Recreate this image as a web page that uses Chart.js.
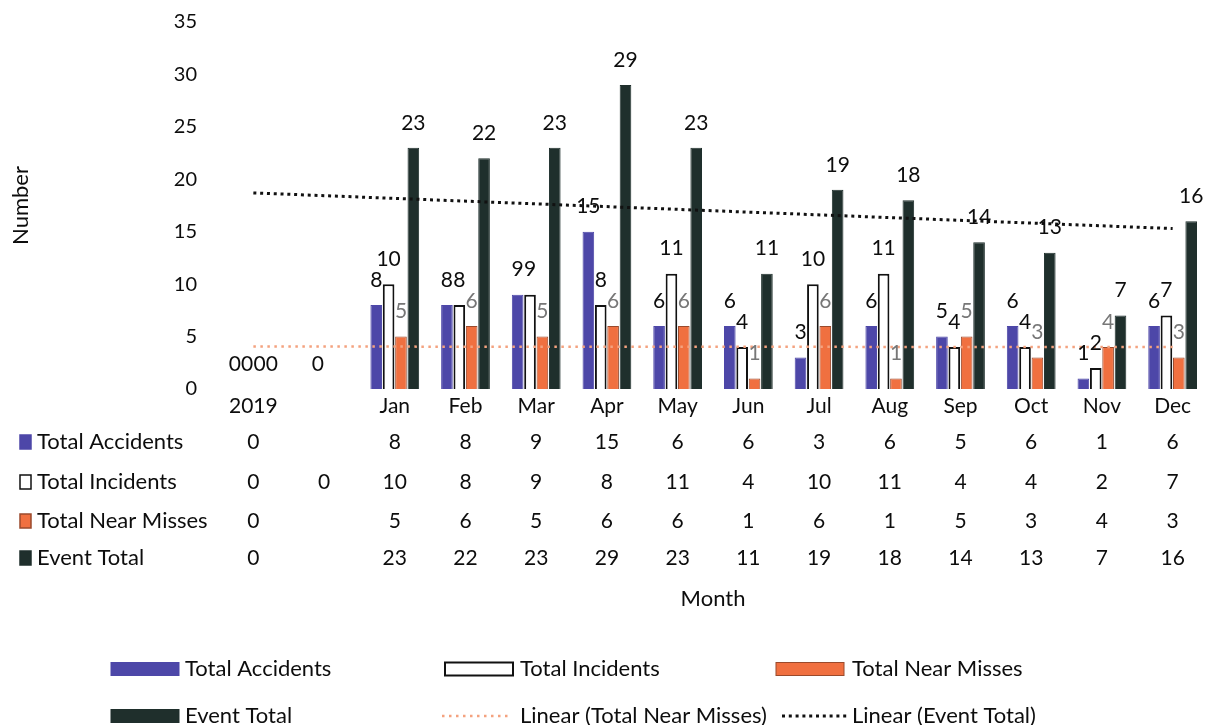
<!DOCTYPE html>
<html>
<head>
<meta charset="utf-8">
<script src="https://cdn.jsdelivr.net/npm/chart.js@4.4.0/dist/chart.umd.min.js"></script>
<style>
  html, body { margin: 0; padding: 0; background: #ffffff; }
  #wrap { width: 1218px; height: 725px; position: relative; }
</style>
</head>
<body>
<div id="wrap"><canvas id="chart" width="1218" height="725"></canvas></div>
<script>
// Monthly safety events, 2019
const categories = ['2019', '', 'Jan', 'Feb', 'Mar', 'Apr', 'May', 'Jun', 'Jul', 'Aug', 'Sep', 'Oct', 'Nov', 'Dec'];
const totalAccidents  = [0, null, 8, 8, 9, 15, 6, 6, 3, 6, 5, 6, 1, 6];
const totalIncidents  = [0, 0, 10, 8, 9, 8, 11, 4, 10, 11, 4, 4, 2, 7];
const totalNearMisses = [0, null, 5, 6, 5, 6, 6, 1, 6, 1, 5, 3, 4, 3];
const eventTotal      = [0, null, 23, 22, 23, 29, 23, 11, 19, 18, 14, 13, 7, 16];
// Linear trendlines: value at the first and at the last category
const nearMissTrendEnds = [4.05, 4.0];
const eventTrendEnds    = [18.7, 15.3];
const yTickStep = 5;
const yMax = 35;

const FONT = 'Lato, "Open Sans", sans-serif';
const TEXT = '#0d0d0d';

const COLORS = {
  accidents: '#4d47a8',
  incidents: '#ffffff',
  incidentsEdge: '#111111',
  nearMisses: '#f07040',
  nearMissesEdge: '#9a4a2c',
  event: '#1f2f2c',
  nearTrend: '#f4a27f',
  eventTrend: '#111111'
};

function endsToSeries(ends) {
  const arr = categories.map(() => null);
  arr[0] = ends[0];
  arr[arr.length - 1] = ends[1];
  return arr;
}

const tableRows = [
  { name: 'Total Accidents', values: totalAccidents, fill: COLORS.accidents, edge: COLORS.accidents },
  { name: 'Total Incidents', values: totalIncidents, fill: COLORS.incidents, edge: COLORS.incidentsEdge },
  { name: 'Total Near Misses', values: totalNearMisses, fill: COLORS.nearMisses, edge: COLORS.nearMissesEdge },
  { name: 'Event Total', values: eventTotal, fill: COLORS.event, edge: COLORS.event }
];

// Value labels above each bar
const barLabels = {
  id: 'barLabels',
  afterDatasetsDraw(chart) {
    const ctx = chart.ctx;
    ctx.save();
    ctx.font = '21px ' + FONT;
    ctx.textAlign = 'center';
    ctx.textBaseline = 'middle';
    chart.data.datasets.forEach((ds, di) => {
      if (ds.type === 'line') return;
      const meta = chart.getDatasetMeta(di);
      meta.data.forEach((el, i) => {
        const v = ds.data[i];
        if (v === null || v === undefined) return;
        ctx.fillStyle = (v > 0 && ds.labelColor) ? ds.labelColor : TEXT;
        ctx.fillText(String(v), el.x, el.y - 25);
      });
    });
    ctx.restore();
  }
};

// Data table under the axis plus the legend
const tableAndLegend = {
  id: 'tableAndLegend',
  afterDraw(chart) {
    const ctx = chart.ctx;
    const x = chart.scales.x;
    const rowY = [442, 482, 521, 558];
    ctx.save();
    ctx.textBaseline = 'middle';
    tableRows.forEach((row, r) => {
      const y = rowY[r];
      // key square
      ctx.fillStyle = row.fill;
      ctx.fillRect(20, y - 7, 11, 14);
      ctx.strokeStyle = row.edge;
      ctx.lineWidth = 1.5;
      ctx.strokeRect(20, y - 7, 11, 14);
      ctx.fillStyle = TEXT;
      ctx.textAlign = 'left';
      ctx.font = '22px ' + FONT;
      ctx.fillText(row.name, 37, y);
      ctx.textAlign = 'center';
      ctx.font = '21px ' + FONT;
      row.values.forEach((v, i) => {
        if (v === null || v === undefined) return;
        ctx.fillText(String(v), x.getPixelForValue(i), y);
      });
    });

    // legend
    const ds = chart.data.datasets;
    const items = [
      { d: ds[0], kind: 'box', sx: 111, tx: 185, y: 669 },
      { d: ds[1], kind: 'box', sx: 445, tx: 520, y: 669 },
      { d: ds[2], kind: 'box', sx: 776, tx: 852, y: 669 },
      { d: ds[3], kind: 'box', sx: 111, tx: 185, y: 716 },
      { d: ds[4], kind: 'line', sx: 442, tx: 520, y: 716 },
      { d: ds[5], kind: 'line', sx: 782, tx: 852, y: 716 }
    ];
    ctx.font = '22px ' + FONT;
    items.forEach(it => {
      if (it.kind === 'box') {
        ctx.fillStyle = it.d.backgroundColor;
        ctx.fillRect(it.sx, it.y - 6.5, 68, 13);
        ctx.strokeStyle = it.d.borderColor;
        ctx.lineWidth = it.d.borderWidth || 1;
        ctx.strokeRect(it.sx, it.y - 6.5, 68, 13);
      } else {
        ctx.strokeStyle = it.d.borderColor;
        ctx.lineWidth = it.d.borderWidth;
        ctx.setLineDash(it.d.borderDash);
        ctx.beginPath();
        ctx.moveTo(it.sx, it.y);
        ctx.lineTo(it.sx + 66, it.y);
        ctx.stroke();
        ctx.setLineDash([]);
      }
      ctx.fillStyle = TEXT;
      ctx.textAlign = 'left';
      ctx.fillText(it.d.label, it.tx, it.y);
    });
    ctx.restore();
  }
};

new Chart(document.getElementById('chart'), {
  type: 'bar',
  data: {
    labels: categories,
    datasets: [
      { label: 'Total Accidents', data: totalAccidents, backgroundColor: COLORS.accidents,
        borderColor: COLORS.accidents, borderWidth: 1, order: 1 },
      { label: 'Total Incidents', data: totalIncidents, backgroundColor: COLORS.incidents,
        borderColor: COLORS.incidentsEdge, borderWidth: 2, order: 1 },
      { label: 'Total Near Misses', data: totalNearMisses, backgroundColor: COLORS.nearMisses,
        borderColor: COLORS.nearMissesEdge, borderWidth: 1, order: 1, labelColor: '#777777' },
      { label: 'Event Total', data: eventTotal, backgroundColor: COLORS.event,
        borderColor: COLORS.event, borderWidth: 1, order: 1 },
      { type: 'line', label: 'Linear (Total Near Misses)', data: endsToSeries(nearMissTrendEnds),
        borderColor: COLORS.nearTrend, borderWidth: 2.5, borderDash: [2.5, 4.5],
        pointRadius: 0, spanGaps: true, fill: false, order: 0 },
      { type: 'line', label: 'Linear (Event Total)', data: endsToSeries(eventTrendEnds),
        borderColor: COLORS.eventTrend, borderWidth: 3, borderDash: [3, 3.8],
        pointRadius: 0, spanGaps: true, fill: false, order: 0 }
    ]
  },
  options: {
    responsive: false,
    animation: false,
    devicePixelRatio: 1,
    layout: { padding: { top: 22, right: 10, bottom: 113, left: 0 } },
    datasets: { bar: { categoryPercentage: 0.7, barPercentage: 0.94 } },
    plugins: {
      legend: { display: false },
      tooltip: { enabled: false }
    },
    scales: {
      x: {
        grid: { display: false, drawTicks: false },
        border: { display: false },
        ticks: { font: { family: FONT, size: 21 }, color: TEXT, padding: 5, autoSkip: false, maxRotation: 0 },
        title: { display: true, text: 'Month', font: { family: FONT, size: 22 }, color: TEXT, padding: 0 },
        afterFit(scale) { scale.height = 223; }
      },
      y: {
        min: 0,
        max: yMax,
        grid: { display: false, drawTicks: false },
        border: { display: false },
        ticks: { stepSize: yTickStep, font: { family: FONT, size: 20 }, color: TEXT, padding: 21 },
        title: { display: true, text: 'Number', font: { family: FONT, size: 22 }, color: TEXT, padding: { top: 8, bottom: 0 } },
        afterFit(scale) {
          scale.width = 218;
          scale.paddingTop = 0;
          scale.paddingBottom = 0;
        }
      }
    }
  },
  plugins: [barLabels, tableAndLegend]
});
</script>
</body>
</html>
